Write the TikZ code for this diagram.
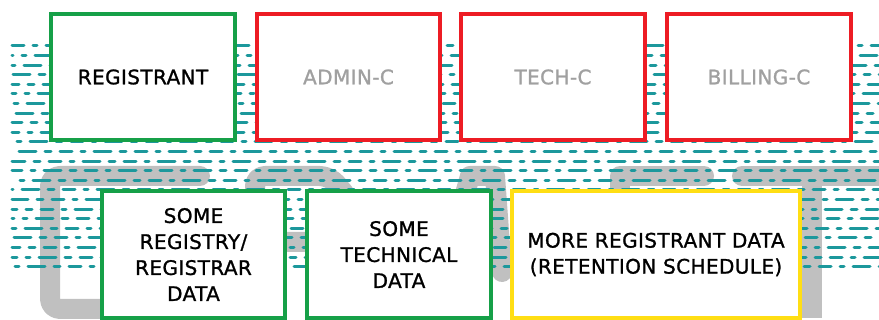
\documentclass[tikz,border=0pt]{standalone}
\usepackage{fontspec}
\setmainfont{DejaVu Sans}[LetterSpace=2, FakeBold=1.2]
\definecolor{vert}{RGB}{22,160,72}
\definecolor{rouge}{RGB}{237,28,36}
\definecolor{jaune}{RGB}{255,222,20}
\definecolor{sarcelle}{RGB}{28,152,156}
\definecolor{grisfond}{RGB}{192,192,192}
\definecolor{gristexte}{RGB}{160,160,160}

\begin{document}
\begin{tikzpicture}[x=1pt, y=-1pt,
  boite/.style={draw, line width=4pt, fill=white, align=center, inner sep=0pt,
    font=\fontsize{20}{26}\selectfont},
  lettre/.style={draw=grisfond, line width=20pt, line cap=round, line join=round},
  tirets/.style={draw=sarcelle, line width=3pt, line cap=round}]

\useasboundingbox (0,0) rectangle (879,320);

% Lettres grises en fond
\draw[lettre, rounded corners=10pt] (200,176) -- (50,176) -- (50,309) -- (200,309);
\draw[lettre, rounded corners=10pt] (255,318) -- (255,176) -- (330,176) -- (350,200) -- (330,242) -- (255,242);
\draw[lettre] (430,318) -- (470,176) -- (495,176) -- (502,272);
\draw[lettre] (620,300) -- (620,176) -- (704,176);
\draw[lettre] (742,176) -- (890,176);
\draw[lettre, line cap=butt] (812,176) -- (812,318);

% Hachures
\foreach \k in {0,...,23} {
  \pgfmathsetmacro{\yy}{46+9.6*\k}
  \pgfmathsetmacro{\ph}{mod(\k*11,47)}
  \draw[tirets, dash pattern=on 12pt off 9pt on 4pt off 9pt on 17pt off 9pt on 6pt off 9pt,
    dash phase=\ph pt] (12,\yy) -- (879,\yy);
}

% Cadres du haut
\node[boite, draw=vert, minimum width=184pt, minimum height=126pt] (registrant) at (143,77) {REGISTRANT};
\node[boite, draw=rouge, text=gristexte, minimum width=183pt, minimum height=126pt] (admin) at (348.5,77) {ADMIN-C};
\node[boite, draw=rouge, text=gristexte, minimum width=184pt, minimum height=126pt] (tech) at (553,77) {TECH-C};
\node[boite, draw=rouge, text=gristexte, minimum width=184pt, minimum height=126pt] (billing) at (759,77) {BILLING-C};

% Cadres du bas
\node[boite, draw=vert, minimum width=183pt, minimum height=127pt] (registry) at (193.5,254.5) {SOME\\REGISTRY/\\REGISTRAR\\DATA};
\node[boite, draw=vert, minimum width=184pt, minimum height=127pt] (technique) at (399,254.5) {SOME\\TECHNICAL\\DATA};
\node[boite, draw=jaune, minimum width=288pt, minimum height=127pt] (retention) at (656,254.5) {MORE REGISTRANT DATA\\(RETENTION SCHEDULE)};

\end{tikzpicture}
\end{document}
